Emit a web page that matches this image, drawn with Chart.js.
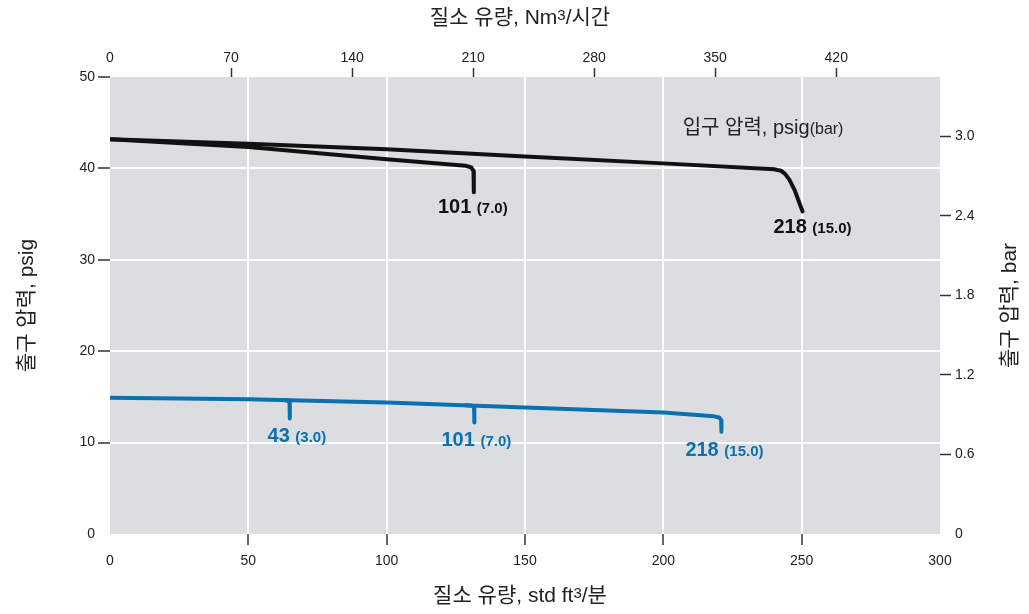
<!DOCTYPE html>
<html>
<head>
<meta charset="utf-8">
<script src="https://cdn.jsdelivr.net/npm/chart.js@4.4.1/dist/chart.umd.min.js"></script>
<style>
  html, body { margin: 0; padding: 0; background: #fff; }
</style>
</head>
<body>
<canvas id="chartRegulator" width="1029" height="614"></canvas>
<script>
// ticks for the four axes
const scfmTicks = [0, 50, 100, 150, 200, 250, 300];
const nm3Ticks = [0, 70, 140, 210, 280, 350, 420];
const psigTicks = [0, 10, 20, 30, 40, 50];
const barTicks = [0, 0.6, 1.2, 1.8, 2.4, 3.0];

// black curves: outlet ~43 psig, inlet 101 psig and 218 psig
const blk101Flow = [0, 50, 100, 128.5, 130.6, 131.4, 131.5, 131.5];
const blk101Psig = [43.2, 42.35, 41.0, 40.3, 40.1, 39.7, 39.2, 37.4];
const blk218Flow = [0, 50, 100, 150, 200, 240, 242.5, 244, 245.5, 247.5, 250.3];
const blk218Psig = [43.2, 42.7, 42.1, 41.3, 40.55, 39.9, 39.75, 39.4, 38.8, 37.6, 35.3];

// blue curve: outlet ~15 psig, inlet 218 psig
const blueFlow = [0, 50, 100, 150, 200, 218.3, 220.2, 220.9, 221, 221];
const bluePsig = [14.9, 14.75, 14.4, 13.85, 13.3, 12.87, 12.75, 12.45, 12.0, 11.2];
// hooks where inlet 43 and 101 psig run out
const hook43Flow = [62.3, 64.3, 64.9, 65, 65];
const hook43Psig = [14.66, 14.6, 14.35, 13.9, 12.65];
const hook101Flow = [128.6, 130.9, 131.6, 131.7, 131.7];
const hook101Psig = [14.08, 14.03, 13.8, 13.4, 12.2];

const FONT = '"Liberation Sans", "Noto Sans CJK KR", Arial, sans-serif';
const BLACK = '#111111';
const BLUE = '#0a70b0';

function toPoints(xs, ys) {
    return xs.map((x, i) => ({ x: x, y: ys[i] }));
}

function curve(data, color, label, dx, dy) {
    return {
        data: data,
        borderColor: color,
        borderWidth: 4,
        pointRadius: 0,
        fill: false,
        tension: 0,
        borderCapStyle: 'round',
        borderJoinStyle: 'round',
        endLabel: label,
        labelDx: dx,
        labelDy: dy
    };
}

// gray plot background
const plotBackground = {
    id: 'plotBackground',
    beforeDraw(chart) {
        const { ctx, chartArea: a } = chart;
        ctx.save();
        ctx.fillStyle = '#dcdde0';
        ctx.fillRect(a.left, a.top, a.right - a.left, a.bottom - a.top);
        ctx.restore();
    }
};

// draws a run of [text, font, raise] pieces, centred or left aligned
function drawPieces(ctx, pieces, x, y, align) {
    let total = 0;
    pieces.forEach(p => { ctx.font = p[1]; total += ctx.measureText(p[0]).width; });
    let cx = align === 'left' ? x : x - total / 2;
    ctx.textAlign = 'left';
    ctx.textBaseline = 'alphabetic';
    pieces.forEach(p => {
        ctx.font = p[1];
        ctx.fillText(p[0], cx, y - (p[2] || 0));
        cx += ctx.measureText(p[0]).width;
    });
}

// inlet pressure labels at the end of each curve
const curveLabels = {
    id: 'curveLabels',
    afterDatasetsDraw(chart) {
        const ctx = chart.ctx;
        ctx.save();
        chart.data.datasets.forEach((ds, i) => {
            if (!ds.endLabel) return;
            const pts = chart.getDatasetMeta(i).data;
            const end = pts[pts.length - 1];
            ctx.fillStyle = ds.borderColor;
            drawPieces(ctx, [
                [ds.endLabel[0] + ' ', 'bold 20px ' + FONT],
                [ds.endLabel[1], 'bold 15px ' + FONT]
            ], end.x + ds.labelDx, end.y + ds.labelDy, 'center');
        });
        // heading for the curve labels
        const xs = chart.scales.x, ys = chart.scales.y;
        ctx.fillStyle = '#222';
        drawPieces(ctx, [
            ['입구 압력, psig', '20px ' + FONT],
            ['(bar)', '16px ' + FONT]
        ], xs.getPixelForValue(207), ys.getPixelForValue(44.5) + 7, 'left');
        ctx.restore();
    }
};

// axis titles (right one reads bottom to top like the left one)
const axisTitles = {
    id: 'axisTitles',
    afterDraw(chart) {
        const { ctx, chartArea: a } = chart;
        const cx = (a.left + a.right) / 2 - 5;
        const cy = (a.top + a.bottom) / 2;
        const f = '21px ' + FONT, fs = '15px ' + FONT;
        ctx.save();
        ctx.fillStyle = '#222';
        drawPieces(ctx, [['질소 유량, Nm', f], ['3', fs, 4], ['/시간', f]], cx, a.top - 53, 'center');
        drawPieces(ctx, [['질소 유량, std ft', f], ['3', fs, 4], ['/분', f]], cx, a.bottom + 68, 'center');
        ctx.textAlign = 'center';
        ctx.textBaseline = 'middle';
        ctx.font = f;
        ctx.translate(a.left - 83, cy);
        ctx.rotate(-Math.PI / 2);
        ctx.fillText('출구 압력, psig', 0, 0);
        ctx.restore();
        ctx.save();
        ctx.fillStyle = '#222';
        ctx.font = f;
        ctx.textAlign = 'center';
        ctx.textBaseline = 'middle';
        ctx.translate(a.right + 70, cy);
        ctx.rotate(-Math.PI / 2);
        ctx.fillText('출구 압력, bar', 0, 0);
        ctx.restore();
    }
};

const tickFont = { family: FONT, size: 14 };
const CLEAR = 'rgba(0,0,0,0)';
const innerWhite = (lo, hi) => (c) => (c.tick && c.tick.value > lo && c.tick.value < hi) ? '#ffffff' : CLEAR;
const innerMark = (lo, hi) => (c) => (c.tick && c.tick.value > lo && c.tick.value < hi) ? '#333333' : CLEAR;
const fixedTicks = (list) => (axis) => { axis.ticks = list.map(v => ({ value: v })); };

new Chart(document.getElementById('chartRegulator'), {
    type: 'line',
    data: {
        datasets: [
            curve(toPoints(blk101Flow, blk101Psig), BLACK, ['101', '(7.0)'], -1, 21),
            curve(toPoints(blk218Flow, blk218Psig), BLACK, ['218', '(15.0)'], 10, 22),
            curve(toPoints(blueFlow, bluePsig), BLUE, ['218', '(15.0)'], 3, 24),
            curve(toPoints(hook43Flow, hook43Psig), BLUE, ['43', '(3.0)'], 7, 24),
            curve(toPoints(hook101Flow, hook101Psig), BLUE, ['101', '(7.0)'], 2, 24)
        ]
    },
    options: {
        responsive: false,
        devicePixelRatio: 1,
        animation: false,
        layout: { padding: 0 },
        plugins: { legend: { display: false }, tooltip: { enabled: false } },
        scales: {
            x: {
                type: 'linear', position: 'bottom', min: 0, max: 300,
                afterBuildTicks: fixedTicks(scfmTicks),
                afterFit: (s) => { s.height = 80; },
                border: { display: false },
                grid: { color: innerWhite(0, 300), lineWidth: 2, tickColor: innerMark(0, 300), tickWidth: 1.5, tickLength: 11 },
                ticks: { font: tickFont, color: '#222', padding: 8, maxRotation: 0 }
            },
            x2: {
                type: 'linear', position: 'top', min: 0, max: 480,
                afterBuildTicks: fixedTicks(nm3Ticks),
                afterFit: (s) => { s.height = 77; },
                border: { display: false },
                grid: { drawOnChartArea: false, tickColor: innerMark(0, 480), tickWidth: 1.5, tickLength: 9 },
                ticks: { font: tickFont, color: '#222', padding: 1, maxRotation: 0 }
            },
            y: {
                type: 'linear', position: 'left', min: 0, max: 50,
                afterBuildTicks: fixedTicks(psigTicks),
                afterFit: (s) => { s.width = 110; },
                border: { display: false },
                grid: { color: innerWhite(0, 50), lineWidth: 2, tickColor: innerMark(0, 51), tickWidth: 1.5, tickLength: 12 },
                ticks: { font: tickFont, color: '#222', padding: 3 }
            },
            y2: {
                type: 'linear', position: 'right', min: 0, max: 50 / 14.5038,
                afterBuildTicks: fixedTicks(barTicks),
                afterFit: (s) => { s.width = 89; },
                border: { display: false },
                grid: { drawOnChartArea: false, tickColor: innerMark(0, 4), tickWidth: 1.5, tickLength: 11 },
                ticks: {
                    font: tickFont, color: '#222', padding: 4,
                    callback: (v) => v === 0 ? '0' : v.toFixed(1)
                }
            }
        }
    },
    plugins: [plotBackground, curveLabels, axisTitles]
});
</script>
</body>
</html>
